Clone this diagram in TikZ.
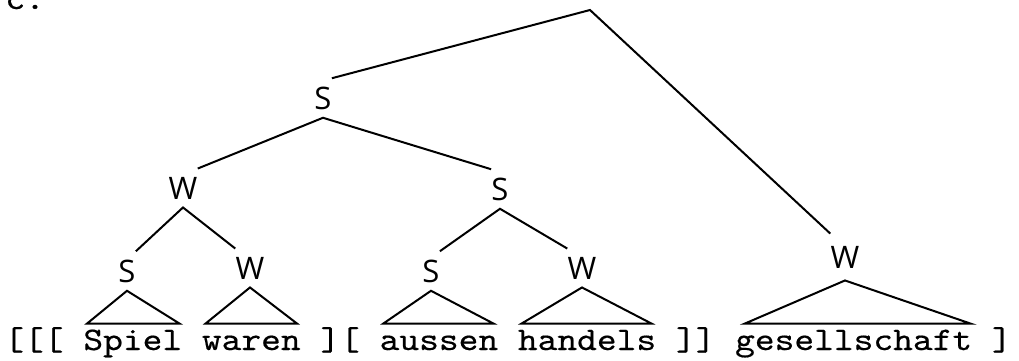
\documentclass[tikz,border=0pt]{standalone}
\usepackage{fontspec}
\usetikzlibrary{calc}
\newfontfamily\twfont{lmmono10-regular}[Extension=.otf, FakeStretch=1.143, FakeBold=0.4]
\newfontfamily\lblfont{Open Sans}
\begin{document}
\begin{tikzpicture}[x=0.5pt,y=-0.5pt,
  lbl/.style={font=\lblfont\fontsize{15.5pt}{15.5pt}\selectfont, inner xsep=0pt, inner ysep=4pt},
  word/.style={font=\twfont\fontsize{16.46pt}{16.46pt}\selectfont, inner sep=0pt, text height=13pt, text depth=3pt, anchor=base west},
  branch/.style={line width=1pt, line join=miter},
  tri/.style={line width=1pt, line join=miter}]
\useasboundingbox (0,0) rectangle (1019,360);
% tree labels
\coordinate (root) at (590,10);
\node[lbl] (s1)  at (323,98)  {S};
\node[lbl] (w2)  at (183,188) {W};
\node[lbl] (s2)  at (500,189) {S};
\node[lbl] (s3a) at (127,271) {S};
\node[lbl] (w3a) at (250,268) {W};
\node[lbl] (s3b) at (431,271) {S};
\node[lbl] (w3b) at (582,268) {W};
\node[lbl, inner ysep=6pt] (w4) at (845,257) {W};
% text line
\node[word] (c)     at (5,9)       {c.};
\node[word] (t0)    at (4,350)     {[[[};
\node[word] (spiel) at (83,350)    {Spiel};
\node[word] (waren) at (201.5,350) {waren};
\node[word] (t1)    at (320,350)   {][};
\node[word] (auss)  at (379.25,350) {aussen};
\node[word] (hand)  at (517.5,350) {handels};
\node[word] (t2)    at (675.5,350) {]]};
\node[word] (ges)   at (734.75,350) {gesellschaft};
\node[word] (t3)    at (991.5,350) {]};
% branches
\draw[branch] (s1.north east) -- (root) -- (w4.north west);
\draw[branch] (w2.north east) -- (s1.south) -- (s2.north west);
\draw[branch] (s3a.north east) -- (w2.south) -- (w3a.north west);
\draw[branch] (s3b.north east) -- (s2.south) -- (w3b.north west);
% triangles
\draw[tri] (s3a.south) -- ($(spiel.north west)+(4,0)$) -- ($(spiel.north east)+(-3,0)$) -- cycle;
\draw[tri] (w3a.south) -- ($(waren.north west)+(4,0)$) -- ($(waren.north east)+(-4,0)$) -- cycle;
\draw[tri] (s3b.south) -- ($(auss.north west)+(4,0)$) -- ($(auss.north east)+(-5,0)$) -- cycle;
\draw[tri] (w3b.south) -- ($(hand.north west)+(4,0)$) -- ($(hand.north east)+(-5,0)$) -- cycle;
\draw[tri] (w4.south) -- ($(ges.north west)+(10,0)$) -- ($(ges.north east)+(-2,0)$) -- cycle;
\end{tikzpicture}
\end{document}
